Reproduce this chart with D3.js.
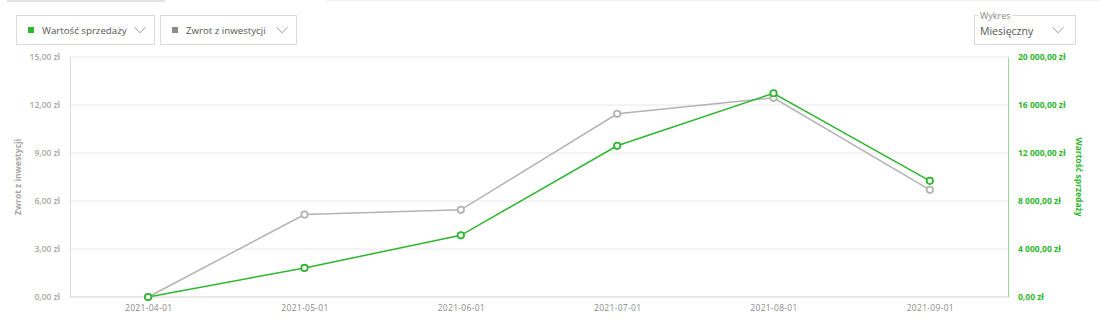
<!DOCTYPE html>
<html><head><meta charset="utf-8">
<script src="https://cdn.jsdelivr.net/npm/d3@7"></script>
<style>
body{margin:0;background:#fff;font-family:"Open Sans",sans-serif;}
svg{display:block}
</style></head><body>
<svg id="c" width="1100" height="320"></svg>
<script>
const categories = ["2021-04-01","2021-05-01","2021-06-01","2021-07-01","2021-08-01","2021-09-01"];
const zwrot = [0, 5.15, 5.45, 11.45, 12.45, 6.7];
const sprzedaz = [0, 2420, 5140, 12600, 16980, 9680];
const leftTicks = [0,3,6,9,12,15];
const rightTicks = [0,4000,8000,12000,16000,20000];
const legendLabels = ["Wartość sprzedaży","Zwrot z inwestycji"];

const GREEN = "#2fb52f", GREY = "#b3b3b3";
const svg = d3.select("#c");
const L = 70, R = 1008, T = 57, B = 297;

// top decorative bars
svg.append("rect").attr("x",7).attr("y",0).attr("width",158).attr("height",2).attr("fill","#e2e2e2");
svg.append("rect").attr("x",326).attr("y",0).attr("width",774).attr("height",1).attr("fill","#f2f2f2");

const x = d3.scalePoint().domain(categories).range([L,R]).padding(0.5);
const yL = d3.scaleLinear().domain([0,15]).range([B,T]);
const yR = d3.scaleLinear().domain([0,20000]).range([B,T]);

const fmtPL = v => {
  const s = d3.format(",.2f")(v).replace(/,/g," ").replace(".",",");
  return s + " zł";
};

// grid
svg.append("g").selectAll("line").data(leftTicks.filter(d=>d>0)).join("line")
  .attr("x1",L).attr("x2",R).attr("y1",d=>yL(d)).attr("y2",d=>yL(d))
  .attr("stroke","#e8e8e8").attr("stroke-width",1);

// axes
const gL = svg.append("g").attr("transform",`translate(${L},0)`)
  .call(d3.axisLeft(yL).tickValues(leftTicks).tickFormat(fmtPL).tickSize(0).tickPadding(10));
gL.select(".domain").attr("stroke","#dcdcdc");
gL.selectAll("text").attr("fill","#a6a6a6").attr("font-size","8.5px").attr("font-weight",600).attr("font-family","Open Sans");

const gR = svg.append("g").attr("transform",`translate(${R},0)`)
  .call(d3.axisRight(yR).tickValues(rightTicks).tickFormat(fmtPL).tickSize(0).tickPadding(10));
gR.select(".domain").attr("stroke","#9ad99a");
gR.selectAll("text").attr("fill",GREEN).attr("font-size","8.5px").attr("font-weight",700).attr("font-family","Open Sans");

const gX = svg.append("g").attr("transform",`translate(0,${B})`)
  .call(d3.axisBottom(x).tickSize(0).tickPadding(8));
gX.select(".domain").attr("stroke","#e0e0e0").attr("stroke-width",1.5).attr("d",`M${L},0H${R}`);
gX.selectAll("text").attr("fill","#8a8a8a").attr("font-size","8.5px").attr("letter-spacing","0.3px").attr("font-family","Open Sans");

// axis titles
svg.append("text").attr("transform",`translate(21,${(T+B)/2}) rotate(-90)`)
  .attr("text-anchor","middle").attr("fill","#a6a6a6").attr("font-size","8.5px").attr("font-weight",700)
  .text("Zwrot z inwestycji");
svg.append("text").attr("transform",`translate(1076,${(T+B)/2}) rotate(90)`)
  .attr("text-anchor","middle").attr("fill",GREEN).attr("font-size","8.5px").attr("font-weight",700)
  .text("Wartość sprzedaży");

// lines
const lineL = d3.line().x((d,i)=>x(categories[i])).y(d=>yL(d));
const lineR = d3.line().x((d,i)=>x(categories[i])).y(d=>yR(d));
svg.append("path").datum(zwrot).attr("d",lineL).attr("fill","none").attr("stroke",GREY).attr("stroke-width",1.5);
svg.append("path").datum(sprzedaz).attr("d",lineR).attr("fill","none").attr("stroke",GREEN).attr("stroke-width",1.5);
svg.append("g").selectAll("circle").data(zwrot).join("circle")
  .attr("cx",(d,i)=>x(categories[i])).attr("cy",d=>yL(d)).attr("r",3.2)
  .attr("fill","#fff").attr("stroke",GREY).attr("stroke-width",1.8);
svg.append("g").selectAll("circle").data(sprzedaz).join("circle")
  .attr("cx",(d,i)=>x(categories[i])).attr("cy",d=>yR(d)).attr("r",3.2)
  .attr("fill","#fff").attr("stroke",GREEN).attr("stroke-width",1.8);

// legend buttons
function chevron(g,cx,cy){
  g.append("path").attr("d",`M${cx-5.5},${cy-2.8}L${cx},${cy+2.8}L${cx+5.5},${cy-2.8}`)
   .attr("fill","none").attr("stroke","#999").attr("stroke-width",1);
}
const btns = [{x:16,w:138,c:GREEN,label:legendLabels[0]},{x:160,w:136,c:"#8c8c8c",label:legendLabels[1]}];
btns.forEach(b=>{
  const g = svg.append("g");
  g.append("rect").attr("x",b.x+0.5).attr("y",15.5).attr("width",b.w).attr("height",29)
    .attr("fill","#fff").attr("stroke","#dadada");
  g.append("rect").attr("x",b.x+12).attr("y",27).attr("width",6).attr("height",6).attr("fill",b.c);
  g.append("text").attr("x",b.x+26).attr("y",34).attr("font-size","9.7px").attr("fill","#555").text(b.label);
  chevron(g,b.x+b.w-14,30);
});

// Wykres select
const gw = svg.append("g");
gw.append("rect").attr("x",974.5).attr("y",15.5).attr("width",101).attr("height",29)
  .attr("fill","#fff").attr("stroke","#dadada");
gw.append("rect").attr("x",978).attr("y",12).attr("width",34).attr("height",6).attr("fill","#fff");
gw.append("text").attr("x",980).attr("y",19).attr("font-size","9px").attr("fill","#8a8a8a").text("Wykres");
gw.append("text").attr("x",980).attr("y",34.5).attr("font-size","10.5px").attr("fill","#555").text("Miesięczny");
chevron(gw,1058,30);
</script>
</body></html>
